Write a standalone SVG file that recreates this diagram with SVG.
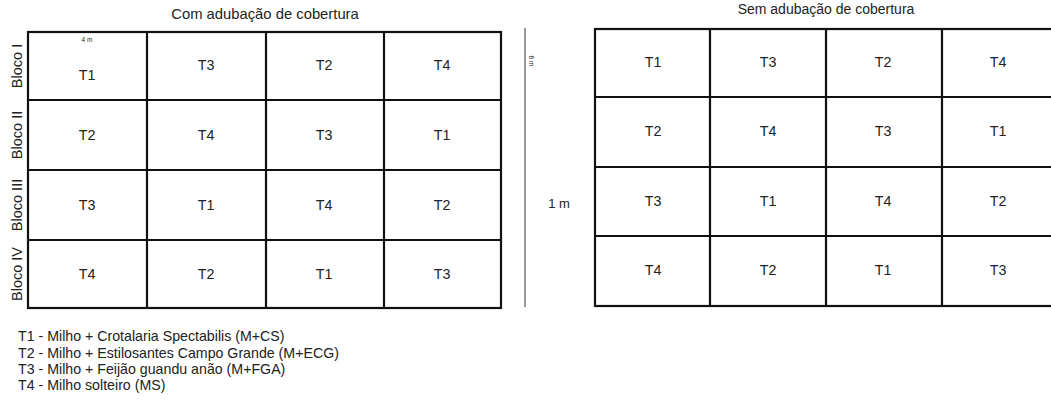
<svg xmlns="http://www.w3.org/2000/svg" width="1051" height="405" viewBox="0 0 1051 405">
<style>
text{font-family:"Liberation Sans",Arial,sans-serif;fill:#222}
.g{fill:none;stroke:#111;stroke-width:2.2}
.t{font-size:14.3px;text-anchor:middle;dominant-baseline:central}
.b{font-size:14.5px;text-anchor:middle;dominant-baseline:central}
.h{font-size:14.8px;text-anchor:middle}
.l{font-size:14.2px}
.s{font-size:6.5px;text-anchor:middle}
</style>
<rect width="1051" height="405" fill="#fff"/>
<text class="h" x="265" y="19">Com adubação de cobertura</text>
<text class="h" x="826" y="14" style="font-size:14px">Sem adubação de cobertura</text>
<g id="grid-left">
<rect class="g" x="28" y="32" width="473" height="276"/>
<path class="g" d="M147 32V308M266 32V308M384 32V308M28 100H501M28 170H501M28 240H501"/>
</g>
<g id="grid-right">
<rect class="g" x="595" y="29" width="470" height="277"/>
<path class="g" d="M710 29V306M826 29V306M942 29V306M595 97H1065M595 167H1065M595 236H1065"/>
</g>
<g id="blocks">
<text class="b" transform="translate(17,66) rotate(-90)">Bloco I</text>
<text class="b" transform="translate(17,135) rotate(-90)">Bloco II</text>
<text class="b" transform="translate(17,205) rotate(-90)">Bloco III</text>
<text class="b" transform="translate(17,274) rotate(-90)">Bloco IV</text>
</g>
<g id="cells-left">
<text class="s" x="87" y="42">4 m</text>
<text class="t" x="87" y="75">T1</text><text class="t" x="206" y="65">T3</text><text class="t" x="324" y="65">T2</text><text class="t" x="442" y="65">T4</text>
<text class="t" x="87" y="135">T2</text><text class="t" x="206" y="135">T4</text><text class="t" x="324" y="135">T3</text><text class="t" x="442" y="135">T1</text>
<text class="t" x="87" y="205">T3</text><text class="t" x="206" y="205">T1</text><text class="t" x="324" y="205">T4</text><text class="t" x="442" y="205">T2</text>
<text class="t" x="87" y="274">T4</text><text class="t" x="206" y="274">T2</text><text class="t" x="324" y="274">T1</text><text class="t" x="442" y="274">T3</text>
</g>
<g id="cells-right">
<text class="t" x="653" y="62">T1</text><text class="t" x="768" y="62">T3</text><text class="t" x="883" y="62">T2</text><text class="t" x="998" y="62">T4</text>
<text class="t" x="653" y="131">T2</text><text class="t" x="768" y="131">T4</text><text class="t" x="883" y="131">T3</text><text class="t" x="998" y="131">T1</text>
<text class="t" x="653" y="201">T3</text><text class="t" x="768" y="201">T1</text><text class="t" x="883" y="201">T4</text><text class="t" x="998" y="201">T2</text>
<text class="t" x="653" y="270">T4</text><text class="t" x="768" y="270">T2</text><text class="t" x="883" y="270">T1</text><text class="t" x="998" y="270">T3</text>
</g>
<g id="connectors">
<line x1="525" y1="28" x2="525" y2="307" stroke="#333" stroke-width="1"/>
</g>
<text class="s" transform="translate(528.5,61) rotate(90)">6 m</text>
<text x="559" y="208" style="font-size:13px;text-anchor:middle">1 m</text>
<g id="legend">
<text class="l" x="18" y="341">T1 - Milho + Crotalaria Spectabilis (M+CS)</text>
<text class="l" x="18" y="358">T2 - Milho + Estilosantes Campo Grande (M+ECG)</text>
<text class="l" x="18" y="374">T3 - Milho + Feijão guandu anão (M+FGA)</text>
<text class="l" x="18" y="390">T4 - Milho solteiro (MS)</text>
</g>
</svg>
